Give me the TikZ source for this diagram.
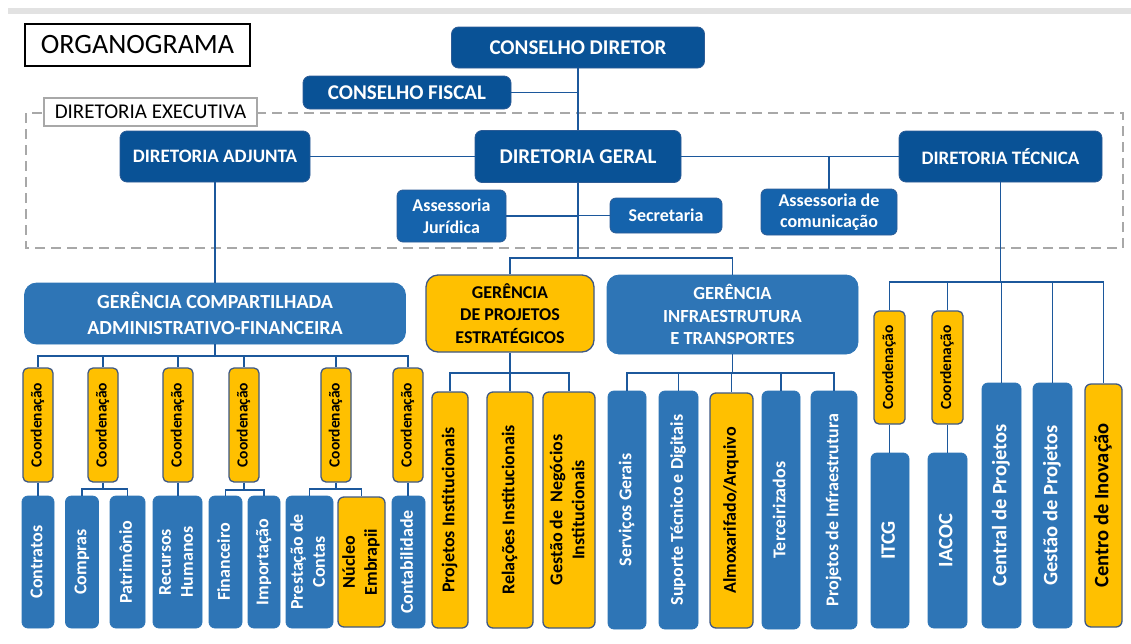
\documentclass[tikz,border=0pt]{standalone}
\usepackage{fontspec}
\setmainfont{Carlito}
\usepackage{graphicx}

\definecolor{navy}{RGB}{9,82,150}
\definecolor{navyedge}{RGB}{45,92,150}
\definecolor{assblue}{RGB}{21,99,172}
\definecolor{gerblue}{RGB}{46,117,182}
\definecolor{goldfill}{RGB}{255,192,0}
\definecolor{goldedge}{RGB}{62,88,132}
\definecolor{lineblue}{RGB}{28,88,156}
\definecolor{dashgray}{RGB}{168,168,168}
\definecolor{bargray}{RGB}{226,226,226}

\newcommand{\fsz}[2]{\fontsize{#1}{#2}\selectfont}
\newcommand{\vtxt}[1]{\rotatebox{90}{\begin{tabular}{@{}c@{}}#1\end{tabular}}}

\begin{document}
\begin{tikzpicture}[x=1pt, y=-1pt]
	\tikzstyle{dark}=[draw=navyedge, fill=navy, text=white, line width=0.8pt,
	                  rounded corners=7pt, inner sep=0pt, align=center];
	\tikzstyle{assess}=[dark, fill=assblue, rounded corners=6pt];
	\tikzstyle{ger}=[draw=gerblue, fill=gerblue, text=white, line width=0.8pt,
	                 inner sep=0pt, align=center];
	\tikzstyle{yel}=[ger, draw=goldedge, fill=goldfill, text=black, line width=1.3pt];
	\tikzstyle{vb}=[ger, rounded corners=6pt, font=\bfseries\fsz{18}{22}];
	\tikzstyle{vy}=[yel, rounded corners=6pt, font=\bfseries\fsz{18}{22}];
	\tikzstyle{coord}=[vy, rounded corners=5pt, font=\bfseries\fsz{15.5}{18}];
	\tikzstyle{link}=[draw=lineblue, line width=1.8pt];
	\useasboundingbox (0,0) rectangle (1131,643);
	\fill[bargray] (8,8) rectangle (1131,14);
	\node[draw=black, line width=1.6pt, minimum width=225, minimum height=42,
	      inner sep=0pt, font=\fsz{28}{32}] (org) at (137.5,45) {ORGANOGRAMA};
	% diretoria executiva
	\draw[dashgray, line width=1.8pt, dash pattern=on 10pt off 6pt] (26,113) rectangle (1123,248);
	\node[draw=dashgray, fill=white, line width=1.5pt, minimum width=213, minimum height=28,
	      inner sep=0pt, font=\fsz{21}{24}] (dex) at (150.5,112) {DIRETORIA EXECUTIVA};
	\node[dark, minimum width=253, minimum height=41, font=\bfseries\fsz{21}{25}] (cdir) at (578,47.5) {CONSELHO DIRETOR};
	\node[dark, minimum width=208, minimum height=33, font=\bfseries\fsz{21}{25}] (cfis) at (407,92.5) {CONSELHO FISCAL};
	\node[dark, minimum width=190, minimum height=51, font=\bfseries\fsz{19}{23}] (dadj) at (215,156.5) {DIRETORIA ADJUNTA};
	\node[dark, minimum width=206, minimum height=52, font=\bfseries\fsz{21}{25}] (dger) at (578,156.5) {DIRETORIA GERAL};
	\node[dark, minimum width=203, minimum height=51, font=\bfseries\fsz{19}{23}] (dtec) at (1000.5,156.5) {DIRETORIA TÉCNICA};
	\node[assess, minimum width=109, minimum height=52, font=\bfseries\fsz{18}{22.5}] (ajur) at (451.5,216) {Assessoria\\Jurídica};
	\node[assess, minimum width=112, minimum height=35, font=\bfseries\fsz{18}{22}] (secr) at (666,215.5) {Secretaria};
	\node[assess, minimum width=136, minimum height=46, font=\bfseries\fsz{18}{21.5}] (acom) at (829,212) {Assessoria de\\comunicação};
	% gerencias
	\node[ger, rounded corners=12pt, minimum width=381, minimum height=61, font=\bfseries\fsz{20}{26}] (gcaf) at (215,313.5)
	     {GERÊNCIA COMPARTILHADA\\ADMINISTRATIVO-FINANCEIRA};
	\node[yel, rounded corners=12pt, minimum width=168, minimum height=77, font=\bfseries\fsz{18}{22.5}] (gpe) at (510,313.5)
	     {GERÊNCIA\\DE PROJETOS\\ESTRATÉGICOS};
	\node[ger, rounded corners=12pt, minimum width=251, minimum height=79, font=\bfseries\fsz{18.5}{22.5}] (ginf) at (732.5,314.5)
	     {GERÊNCIA\\INFRAESTRUTURA\\E TRANSPORTES};
	% coordenacoes
	\foreach \x [count=\i] in {38,103,178,244,336,408}
	{\node[coord, minimum width=30, minimum height=114] (co\i) at (\x,425) {\vtxt{Coordenação}};}
	\node[vb, minimum width=32, minimum height=132] (ctr) at (38,562) {\vtxt{Contratos}};
	\node[vb, minimum width=33, minimum height=132] (cmp) at (82,562) {\vtxt{Compras}};
	\node[vb, minimum width=35, minimum height=132] (pat) at (127.5,562) {\vtxt{Patrimônio}};
	\node[vb, minimum width=49, minimum height=132] (rhu) at (177.5,562) {\vtxt{Recursos\\Humanos}};
	\node[vb, minimum width=33, minimum height=132] (fin) at (225.5,562) {\vtxt{Financeiro}};
	\node[vb, minimum width=32, minimum height=132] (imp) at (264,562) {\vtxt{Importação}};
	\node[vb, minimum width=47, minimum height=132] (pco) at (309.5,562) {\vtxt{Prestação de\\Contas}};
	\node[vy, minimum width=47, minimum height=130] (nuc) at (361.5,562) {\vtxt{Núcleo\\Embrapii}};
	\node[vb, minimum width=33, minimum height=132] (ctb) at (408.5,562) {\vtxt{Contabilidade}};
	% projetos estrategicos
	\node[vy, minimum width=36, minimum height=236] (pin) at (450,510) {\vtxt{Projetos Institucionais}};
	\node[vy, minimum width=46, minimum height=236] (rin) at (510,510) {\vtxt{Relações Institucionais}};
	\node[vy, minimum width=52, minimum height=236] (gni) at (569,510) {\vtxt{Gestão de\ \ Negócios\\Institucionais}};
	% infraestrutura
	\node[vb, minimum width=38, minimum height=238] (sge) at (627,510) {\vtxt{Serviços Gerais}};
	\node[vb, minimum width=39, minimum height=238] (std) at (678.5,510) {\vtxt{Suporte Técnico e Digitais}};
	\node[vy, minimum width=43, minimum height=235] (alm) at (731.5,510.5) {\vtxt{Almoxarifado/Arquivo}};
	\node[vb, minimum width=38, minimum height=238] (ter) at (781,510) {\vtxt{Terceirizados}};
	\node[vb, minimum width=46, minimum height=238] (pif) at (834,510) {\vtxt{Projetos de Infraestrutura}};
	% diretoria tecnica
	\node[coord, minimum width=31, minimum height=113] (ci1) at (889.5,367.5) {\vtxt{Coordenação}};
	\node[coord, minimum width=31, minimum height=113] (ci2) at (947.5,367.5) {\vtxt{Coordenação}};
	\node[vb, minimum width=38, minimum height=175, font=\bfseries\fsz{20.5}{24}] (itcg) at (890,540.5) {\vtxt{ITCG}};
	\node[vb, minimum width=39, minimum height=175, font=\bfseries\fsz{20.5}{24}] (iacoc) at (947.5,540.5) {\vtxt{IACOC}};
	\node[vb, minimum width=39, minimum height=245, font=\bfseries\fsz{20.5}{24}] (cpj) at (1001.5,505.5) {\vtxt{Central de Projetos}};
	\node[vb, minimum width=39, minimum height=245, font=\bfseries\fsz{20.5}{24}] (gpj) at (1052.5,505.5) {\vtxt{Gestão de Projetos}};
	\node[vy, minimum width=37, minimum height=243, font=\bfseries\fsz{20.5}{24}] (cin) at (1103.5,505.5) {\vtxt{Centro de Inovação}};
	% ligacoes
	\draw[link] (cdir.south) -- (dger.north);
	\draw[link] (cfis.east) -- (cfis.east -| cdir.south);
	\draw[link] (dadj.east) -- (dger.west);
	\draw[link] (dger.east) -- (dtec.west);
	\draw[link] (acom.north) -- (acom.north |- dtec.west);
	\draw[link] (ajur.east) -- (ajur.east -| dger.south);
	\draw[link] (secr.west) -- (secr.west -| dger.south);
	\coordinate (gsplit) at (578,258);
	\draw[link] (dger.south) -- (gsplit);
	\draw[link] (gpe.north) |- (gsplit) -| (ginf.north);
	\draw[link] (dadj.south) -- (gcaf.north);
	\coordinate (gcafsplit) at (215,356);
	\draw[link] (gcaf.south) -- (gcafsplit);
	\foreach \i in {1,...,6}
	{\draw[link] (gcafsplit) -| (co\i.north);}
	\draw[link] (co1.south) -- (ctr.north);
	\draw[link] (co3.south) -- (co3.south |- rhu.north);
	\draw[link] (co6.south) -- (co6.south |- ctb.north);
	\coordinate (sp2) at (103,489);
	\coordinate (sp4) at (244,490);
	\coordinate (sp5) at (336,489);
	\draw[link] (co2.south) -- (sp2);
	\draw[link] (cmp.north) |- (sp2) -| (pat.north);
	\draw[link] (co4.south) -- (sp4);
	\draw[link] (fin.north) |- (sp4) -| (imp.north);
	\draw[link] (co5.south) -- (sp5);
	\draw[link] (pco.north) |- (sp5) -| (nuc.north);
	\coordinate (gpesplit) at (510,373);
	\draw[link] (gpe.south) -- (gpesplit);
	\foreach \n in {pin,rin,gni}
	{\draw[link] (gpesplit) -| (\n.north);}
	\coordinate (ginfsplit) at (732.5,373);
	\draw[link] (ginf.south) -- (ginfsplit);
	\foreach \n in {sge,std,alm,ter,pif}
	{\draw[link] (ginfsplit) -| (\n.north);}
	\coordinate (dtsplit) at (1000.5,282);
	\draw[link] (dtec.south) -- (dtsplit);
	\foreach \n in {ci1,ci2,cpj,gpj,cin}
	{\draw[link] (dtsplit) -| (\n.north);}
	\draw[link] (ci1.south) -- (ci1.south |- itcg.north);
	\draw[link] (ci2.south) -- (iacoc.north);
\end{tikzpicture}
\end{document}
